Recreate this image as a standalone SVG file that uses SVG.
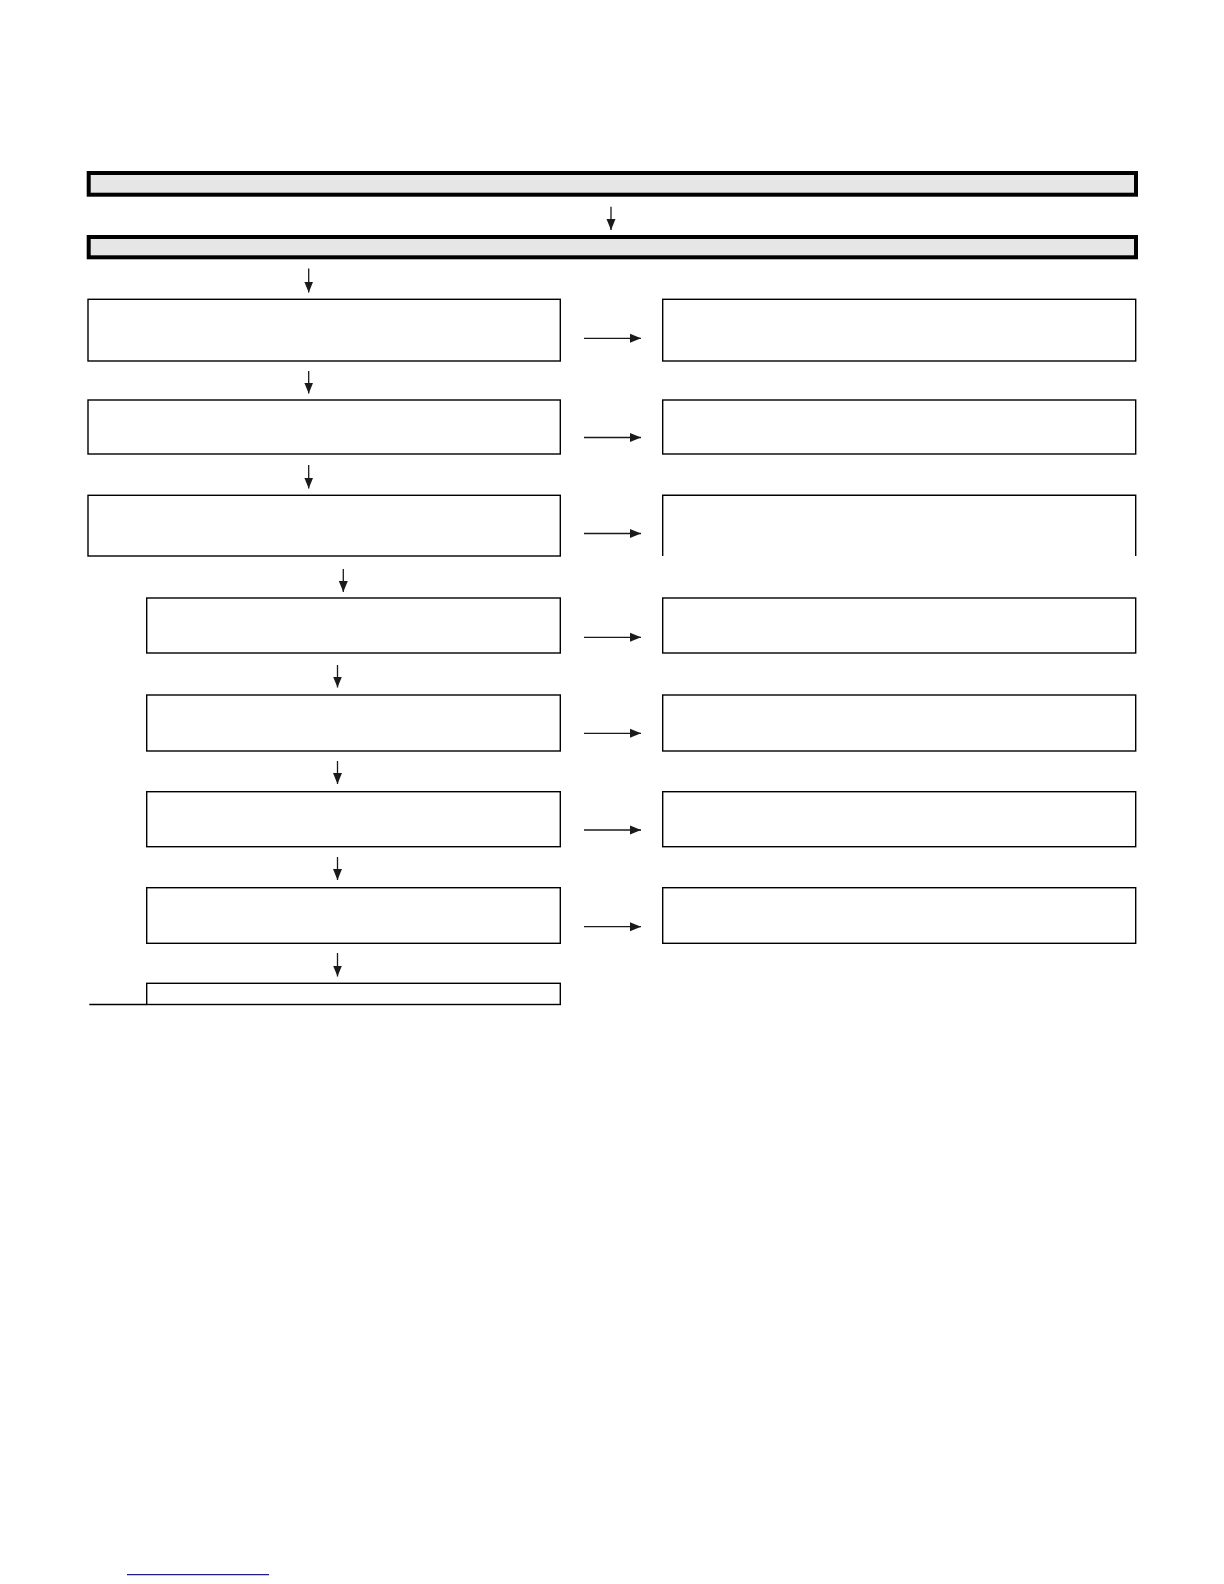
<svg xmlns="http://www.w3.org/2000/svg" width="1224" height="1584" viewBox="0 0 1224 1584">
<style>
.bar{fill:#e6e6e6;stroke:#000;stroke-width:4}
.box{fill:#fff;stroke:#000;stroke-width:1.4}
.open{fill:none;stroke:#000;stroke-width:1.4}
.arr{stroke:#1a1a1a;stroke-width:1.3;fill:none;marker-end:url(#ah)}
</style>
<defs>
<marker id="ah" markerUnits="userSpaceOnUse" markerWidth="12" markerHeight="10" refX="11" refY="5" orient="auto" viewBox="0 0 12 10">
<path d="M0,0.5 L11,5 L0,9.5 z" fill="#1a1a1a"/>
</marker>
</defs>
<rect width="1224" height="1584" fill="#fff"/>
<g id="bar1"><rect class="bar" x="88.7" y="173" width="1047.3" height="21.7"/></g>
<g id="bar2"><rect class="bar" x="88.7" y="237" width="1047.3" height="20.3"/></g>
<g id="L1"><rect class="box" x="88" y="299.3" width="472.3" height="61.7"/></g>
<g id="L2"><rect class="box" x="88" y="400" width="472.3" height="54"/></g>
<g id="L3"><rect class="box" x="88" y="495.3" width="472.3" height="60.7"/></g>
<g id="L4"><rect class="box" x="146.7" y="598" width="413.6" height="55"/></g>
<g id="L5"><rect class="box" x="146.7" y="695" width="413.6" height="56"/></g>
<g id="L6"><rect class="box" x="146.7" y="791.7" width="413.6" height="55"/></g>
<g id="L7"><rect class="box" x="146.7" y="887.7" width="413.6" height="55.6"/></g>
<g id="L8"><rect class="box" x="146.7" y="983.3" width="413.6" height="21.2"/><line x1="89.3" y1="1004.5" x2="146.7" y2="1004.5" stroke="#000" stroke-width="1.4"/></g>
<g id="R1"><rect class="box" x="662.7" y="299.3" width="473" height="61.7"/></g>
<g id="R2"><rect class="box" x="662.7" y="400" width="473" height="54"/></g>
<g id="R3"><path class="open" d="M662.7,556 V495.3 H1135.7 V556"/></g>
<g id="R4"><rect class="box" x="662.7" y="598" width="473" height="55"/></g>
<g id="R5"><rect class="box" x="662.7" y="695" width="473" height="56"/></g>
<g id="R6"><rect class="box" x="662.7" y="791.7" width="473" height="55"/></g>
<g id="R7"><rect class="box" x="662.7" y="887.7" width="473" height="55.6"/></g>
<g id="connectors">
<line class="arr" x1="611" y1="206.7" x2="611" y2="230"/>
<line class="arr" x1="308.7" y1="268.5" x2="308.7" y2="292.5"/>
<line class="arr" x1="308.7" y1="371" x2="308.7" y2="393.5"/>
<line class="arr" x1="308.7" y1="465" x2="308.7" y2="488.5"/>
<line class="arr" x1="343.3" y1="569" x2="343.3" y2="592"/>
<line class="arr" x1="337.5" y1="665" x2="337.5" y2="687.5"/>
<line class="arr" x1="337.5" y1="761" x2="337.5" y2="784"/>
<line class="arr" x1="337.5" y1="857" x2="337.5" y2="880"/>
<line class="arr" x1="337.5" y1="953" x2="337.5" y2="976.5"/>
<line class="arr" x1="584" y1="338.3" x2="641" y2="338.3"/>
<line class="arr" x1="584" y1="437.5" x2="641" y2="437.5"/>
<line class="arr" x1="584" y1="533.5" x2="641" y2="533.5"/>
<line class="arr" x1="584" y1="637.3" x2="641" y2="637.3"/>
<line class="arr" x1="584" y1="733.3" x2="641" y2="733.3"/>
<line class="arr" x1="584" y1="830" x2="641" y2="830"/>
<line class="arr" x1="584" y1="926.7" x2="641" y2="926.7"/>
</g>
<line x1="127" y1="1574.7" x2="269" y2="1574.7" stroke="#1c1c8c" stroke-width="1.2"/>
</svg>
